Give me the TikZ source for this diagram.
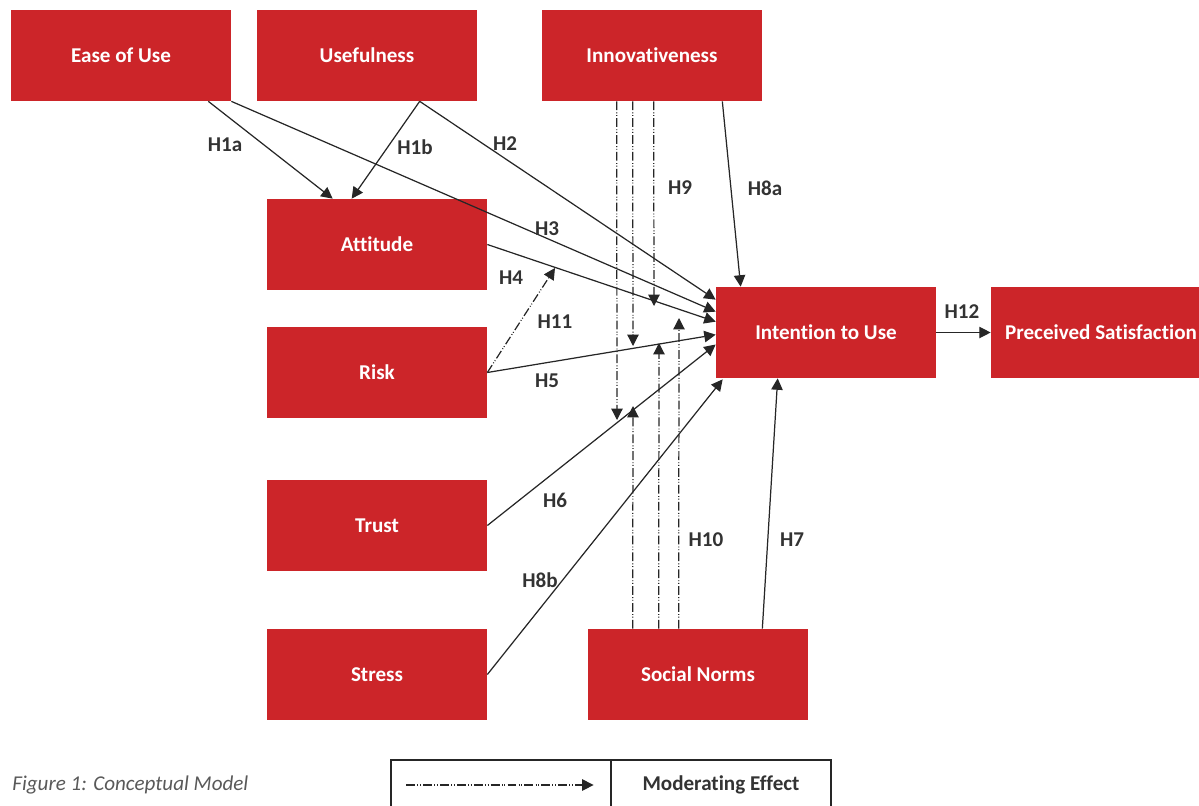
\documentclass[tikz,border=0pt]{standalone}
\usepackage{fontspec}
\setmainfont{Carlito}[Ligatures=NoCommon]
\usetikzlibrary{arrows.meta,calc}
\definecolor{boxred}{HTML}{CC2529}
\definecolor{linegray}{HTML}{262626}
\definecolor{labgray}{HTML}{333333}
\definecolor{capgray}{HTML}{595959}
\begin{document}
\begin{tikzpicture}[x=0.02cm,y=-0.02cm,
	construct/.style={rectangle,fill=boxred,text=white,font=\fontsize{12}{14}\selectfont\bfseries,minimum width=4.4cm,minimum height=1.82cm,inner sep=0pt},
	hyp/.style={text=labgray,font=\fontsize{12}{14}\selectfont\bfseries},
	link/.style={draw=linegray,line width=0.7pt,-{Triangle[length=6.5pt,width=6.5pt]}},
	moder/.style={link,dash pattern=on 5pt off 1.3pt on 0.5pt off 1pt on 0.5pt off 1.3pt}]
	\useasboundingbox (0,0) rectangle (1199,805);
	% constructs
	\node[construct] (ease) at (121,55.5) {Ease of Use};
	\node[construct] (useful) at (367,55.5) {Usefulness};
	\node[construct] (innov) at (652,55.5) {Innovativeness};
	\node[construct] (att) at (377,244.5) {Attitude};
	\node[construct] (risk) at (377,372.5) {Risk};
	\node[construct] (trust) at (377,525.5) {Trust};
	\node[construct] (stress) at (377,674.5) {Stress};
	\node[construct] (social) at (698,674.5) {Social Norms};
	\node[construct] (intent) at (826,332.5) {Intention to Use};
	\node[construct] (satis) at (1101,332.5) {Preceived Satisfaction};
	% direct effects
	\draw[link] ($(ease.south east)+(-23,0)$) -- ($(att.north west)+(66,0)$);
	\draw[link] ($(useful.south west)+(163,0)$) -- ($(att.north west)+(85,0)$);
	\draw[link] ($(useful.south west)+(163,0)$) -- ($(intent.north west)+(0,13)$);
	\draw[link] (ease.south east) -- ($(intent.north west)+(0,25)$);
	\draw[link] ($(innov.south east)+(-40,0)$) -- ($(intent.north west)+(25,0)$);
	\draw[link] (att.east) -- ($(intent.north west)+(0,35)$);
	\draw[link] (risk.east) -- ($(intent.north west)+(0,48)$);
	\draw[link] (trust.east) -- ($(intent.west)+(0,12)$);
	\draw[link] (stress.east) -- ($(intent.south west)+(7,1)$);
	\draw[link] ($(social.north east)+(-46,0)$) -- ($(intent.south west)+(62,0)$);
	\draw[link] (intent) -- (satis);
	% moderating effects
	\coordinate (h11end) at (555,268);
	\draw[moder] (risk.east) -- (h11end);
	\coordinate (mi1) at (617,420);
	\coordinate (mi2) at (633,346);
	\coordinate (mi3) at (654,306);
	\draw[moder] ($(innov.south west)+(75,0)$) -- (mi1);
	\draw[moder] ($(innov.south west)+(91,0)$) -- (mi2);
	\draw[moder] ($(innov.south west)+(112,0)$) -- (mi3);
	\coordinate (ms1) at (633,406);
	\coordinate (ms2) at (659,343);
	\coordinate (ms3) at (679,318);
	\draw[moder] ($(social.north west)+(45,0)$) -- (ms1);
	\draw[moder] ($(social.north west)+(71,0)$) -- (ms2);
	\draw[moder] ($(social.north west)+(91,0)$) -- (ms3);
	% hypothesis labels
	\node[hyp] (h1a) at (225,145) {H1a};
	\node[hyp] (h1b) at (415,147) {H1b};
	\node[hyp] (h2) at (505,144) {H2};
	\node[hyp] (h9) at (680,188) {H9};
	\node[hyp] (h8a) at (765,188) {H8a};
	\node[hyp] (h3) at (547,229) {H3};
	\node[hyp] (h4) at (511,278) {H4};
	\node[hyp] (h11) at (555,322) {H11};
	\node[hyp] (h5) at (547,381) {H5};
	\node[hyp] (h12) at (962,312) {H12};
	\node[hyp] (h6) at (555,500) {H6};
	\node[hyp] (h10) at (706,540) {H10};
	\node[hyp] (h7) at (792,540) {H7};
	\node[hyp] (h8b) at (540,580) {H8b};
	% caption and legend
	\node[anchor=west,inner sep=0pt,text=capgray,font=\fontsize{12}{14}\selectfont\itshape] (caption) at (12,785) {Figure 1: Conceptual Model};
	\node[draw=linegray,line width=0.7pt,minimum width=4.4cm,minimum height=1cm,inner sep=0pt] (legkey) at (501,785) {};
	\node[draw=linegray,line width=0.7pt,minimum width=4.4cm,minimum height=1cm,inner sep=0pt,hyp] (legtext) at (721,785) {Moderating Effect};
	\draw[moder] ($(legkey.west)+(16,0)$) -- ($(legkey.east)+(-18,0)$);
\end{tikzpicture}
\end{document}
